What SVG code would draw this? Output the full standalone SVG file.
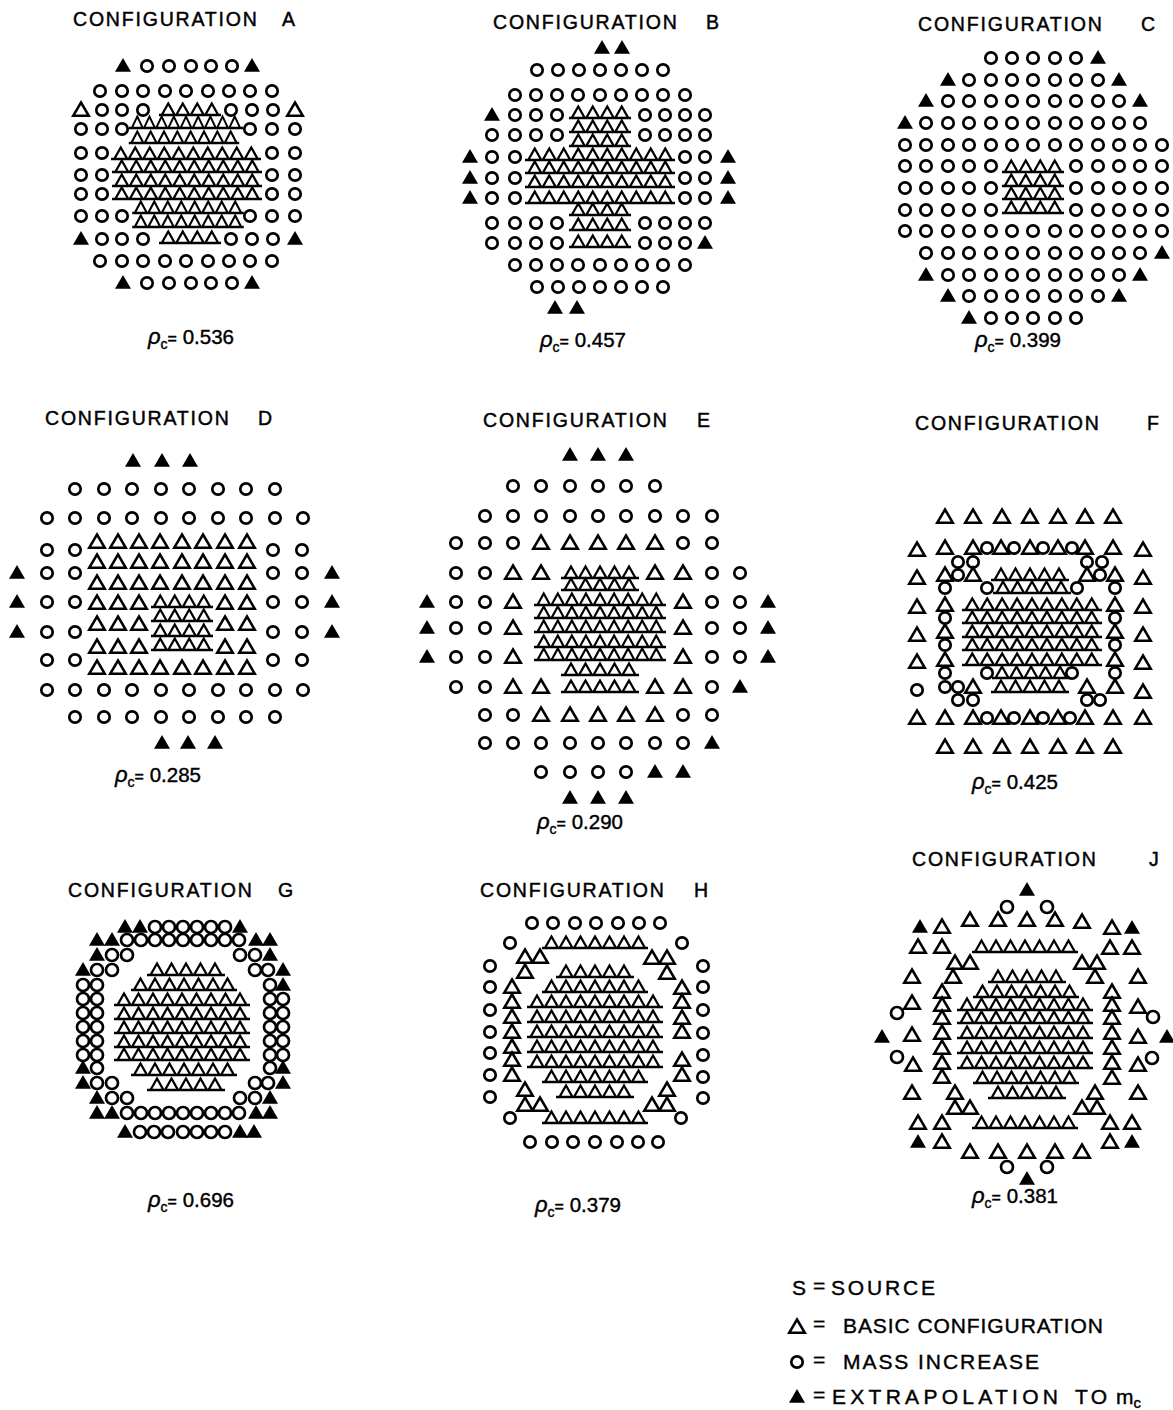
<svg xmlns="http://www.w3.org/2000/svg" xmlns:xlink="http://www.w3.org/1999/xlink" width="1173" height="1410" viewBox="0 0 1173 1410">
<style>
.ttl{font-family:"Liberation Sans",Arial,sans-serif;font-size:19.5px;letter-spacing:1.8px;fill:#000;stroke:#000;stroke-width:0.45}
.lbl{font-family:"Liberation Sans",Arial,sans-serif;font-size:20.5px;fill:#000;stroke:#000;stroke-width:0.4}
.leg{font-family:"Liberation Sans",Arial,sans-serif;font-size:21px;fill:#000;stroke:#000;stroke-width:0.4}
.o{fill:none;stroke:#000;stroke-width:2.7}
.tr{fill:none;stroke:#000;stroke-width:2.5;stroke-linejoin:miter}
.fl{fill:#000}
.dn{fill:none;stroke:#000;stroke-width:2.3;stroke-linejoin:miter}
</style>
<defs>
<circle id="c" class="o" r="5.7"/>
<circle id="cg" class="o" r="6"/>
<path id="t" class="tr" d="M0,-7.5L7.8,5.8H-7.8Z"/>
<path id="f" class="fl" d="M0,-8L8,5.8H-8Z"/>
<path id="r4" class="dn" d="M-31 5H31M-28.25 5l6.5-11.5l6.5 11.5m1.5 0l6.5-11.5l6.5 11.5m1.5 0l6.5-11.5l6.5 11.5m1.5 0l6.5-11.5l6.5 11.5"/>
<path id="r5" class="dn" d="M-39 5H39M-35.5 5l6.5-11.5l6.5 11.5m1.5 0l6.5-11.5l6.5 11.5m1.5 0l6.5-11.5l6.5 11.5m1.5 0l6.5-11.5l6.5 11.5m1.5 0l6.5-11.5l6.5 11.5"/>
<path id="r7" class="dn" d="M-53 5H53M-50 5l6.5-11.5l6.5 11.5m1.5 0l6.5-11.5l6.5 11.5m1.5 0l6.5-11.5l6.5 11.5m1.5 0l6.5-11.5l6.5 11.5m1.5 0l6.5-11.5l6.5 11.5m1.5 0l6.5-11.5l6.5 11.5m1.5 0l6.5-11.5l6.5 11.5"/>
<path id="r8" class="dn" d="M-60 5H60M-57.25 5l6.5-11.5l6.5 11.5m1.5 0l6.5-11.5l6.5 11.5m1.5 0l6.5-11.5l6.5 11.5m1.5 0l6.5-11.5l6.5 11.5m1.5 0l6.5-11.5l6.5 11.5m1.5 0l6.5-11.5l6.5 11.5m1.5 0l6.5-11.5l6.5 11.5m1.5 0l6.5-11.5l6.5 11.5"/>
<path id="r9" class="dn" d="M-68 5H68M-64.5 5l6.5-11.5l6.5 11.5m1.5 0l6.5-11.5l6.5 11.5m1.5 0l6.5-11.5l6.5 11.5m1.5 0l6.5-11.5l6.5 11.5m1.5 0l6.5-11.5l6.5 11.5m1.5 0l6.5-11.5l6.5 11.5m1.5 0l6.5-11.5l6.5 11.5m1.5 0l6.5-11.5l6.5 11.5m1.5 0l6.5-11.5l6.5 11.5"/>
<path id="r10" class="dn" d="M-75 5H75M-71.75 5l6.5-11.5l6.5 11.5m1.5 0l6.5-11.5l6.5 11.5m1.5 0l6.5-11.5l6.5 11.5m1.5 0l6.5-11.5l6.5 11.5m1.5 0l6.5-11.5l6.5 11.5m1.5 0l6.5-11.5l6.5 11.5m1.5 0l6.5-11.5l6.5 11.5m1.5 0l6.5-11.5l6.5 11.5m1.5 0l6.5-11.5l6.5 11.5m1.5 0l6.5-11.5l6.5 11.5"/>
</defs>
<rect width="1173" height="1410" fill="#fff"/>

<g id="config-a">
<text class="ttl" x="73" y="26">CONFIGURATION<tspan x="282">A</tspan></text>
<use href="#f" x="123" y="66"/><use href="#f" x="252" y="66"/><use href="#f" x="81" y="239"/><use href="#f" x="295" y="239"/><use href="#f" x="123" y="283"/><use href="#f" x="252" y="283"/>
<use href="#t" x="81" y="110"/><use href="#t" x="295" y="110"/>
<use href="#c" x="147" y="66"/><use href="#c" x="169" y="66"/><use href="#c" x="191" y="66"/><use href="#c" x="211" y="66"/><use href="#c" x="232" y="66"/>
<use href="#c" x="100" y="91"/><use href="#c" x="122" y="91"/><use href="#c" x="143" y="91"/><use href="#c" x="165" y="91"/><use href="#c" x="186" y="91"/><use href="#c" x="208" y="91"/><use href="#c" x="229" y="91"/><use href="#c" x="250" y="91"/><use href="#c" x="272" y="91"/>
<use href="#c" x="102" y="110"/><use href="#c" x="122" y="110"/><use href="#c" x="143" y="110"/><use href="#c" x="231" y="110"/><use href="#c" x="252" y="110"/><use href="#c" x="273" y="110"/>
<use href="#c" x="81" y="129"/><use href="#c" x="102" y="129"/><use href="#c" x="122" y="129"/><use href="#c" x="250" y="129"/><use href="#c" x="272" y="129"/><use href="#c" x="295" y="129"/>
<use href="#c" x="81" y="153"/><use href="#c" x="102" y="153"/><use href="#c" x="272" y="153"/><use href="#c" x="295" y="153"/>
<use href="#c" x="81" y="175"/><use href="#c" x="102" y="175"/><use href="#c" x="272" y="175"/><use href="#c" x="295" y="175"/>
<use href="#c" x="81" y="194"/><use href="#c" x="102" y="194"/><use href="#c" x="272" y="194"/><use href="#c" x="295" y="194"/>
<use href="#c" x="81" y="216"/><use href="#c" x="102" y="216"/><use href="#c" x="122" y="216"/><use href="#c" x="250" y="216"/><use href="#c" x="272" y="216"/><use href="#c" x="295" y="216"/>
<use href="#c" x="102" y="239"/><use href="#c" x="122" y="239"/><use href="#c" x="143" y="239"/><use href="#c" x="231" y="239"/><use href="#c" x="252" y="239"/><use href="#c" x="273" y="239"/>
<use href="#c" x="100" y="261"/><use href="#c" x="122" y="261"/><use href="#c" x="143" y="261"/><use href="#c" x="165" y="261"/><use href="#c" x="186" y="261"/><use href="#c" x="208" y="261"/><use href="#c" x="229" y="261"/><use href="#c" x="250" y="261"/><use href="#c" x="272" y="261"/>
<use href="#c" x="147" y="283"/><use href="#c" x="169" y="283"/><use href="#c" x="191" y="283"/><use href="#c" x="211" y="283"/><use href="#c" x="232" y="283"/>
<use href="#r4" x="190" y="110"/>
<use href="#r9" transform="translate(186,123) scale(0.84,1)"/>
<use href="#r8" transform="translate(184,138) scale(0.92,1)"/>
<use href="#r10" x="186" y="154"/><use href="#r10" x="187" y="167"/><use href="#r10" x="187" y="181"/><use href="#r10" x="187" y="194"/>
<use href="#r8" transform="translate(188,208) scale(0.93,1)"/>
<use href="#r8" transform="translate(188,222) scale(0.93,1)"/>
<use href="#r4" x="190" y="238"/>
<text class="lbl" x="148" y="344"><tspan font-style="italic" font-size="22">ρ</tspan><tspan font-size="14" dy="5">c</tspan><tspan font-size="16" dy="-5">=</tspan> 0.536</text>
</g>

<g id="config-b">
<text class="ttl" x="493" y="29">CONFIGURATION<tspan x="706">B</tspan></text>
<use href="#f" x="602" y="48"/><use href="#f" x="622" y="48"/><use href="#f" x="492" y="115"/><use href="#f" x="470" y="157"/><use href="#f" x="470" y="178"/><use href="#f" x="470" y="198"/><use href="#f" x="728" y="157"/><use href="#f" x="728" y="178"/><use href="#f" x="728" y="198"/><use href="#f" x="705" y="243"/><use href="#f" x="555" y="308"/><use href="#f" x="577" y="308"/>
<use href="#c" x="537" y="70"/><use href="#c" x="558" y="70"/><use href="#c" x="579" y="70"/><use href="#c" x="600" y="70"/><use href="#c" x="621" y="70"/><use href="#c" x="642" y="70"/><use href="#c" x="663" y="70"/>
<use href="#c" x="515" y="95"/><use href="#c" x="536" y="95"/><use href="#c" x="557" y="95"/><use href="#c" x="578" y="95"/><use href="#c" x="600" y="95"/><use href="#c" x="621" y="95"/><use href="#c" x="642" y="95"/><use href="#c" x="663" y="95"/><use href="#c" x="685" y="95"/>
<use href="#c" x="515" y="115"/><use href="#c" x="536" y="115"/><use href="#c" x="557" y="115"/><use href="#c" x="645" y="115"/><use href="#c" x="665" y="115"/><use href="#c" x="685" y="115"/><use href="#c" x="705" y="115"/>
<use href="#c" x="492" y="135"/><use href="#c" x="515" y="135"/><use href="#c" x="536" y="135"/><use href="#c" x="557" y="135"/><use href="#c" x="645" y="135"/><use href="#c" x="665" y="135"/><use href="#c" x="685" y="135"/><use href="#c" x="705" y="135"/>
<use href="#c" x="492" y="157"/><use href="#c" x="515" y="157"/><use href="#c" x="685" y="157"/><use href="#c" x="705" y="157"/>
<use href="#c" x="492" y="178"/><use href="#c" x="515" y="178"/><use href="#c" x="685" y="178"/><use href="#c" x="705" y="178"/>
<use href="#c" x="492" y="198"/><use href="#c" x="515" y="198"/><use href="#c" x="685" y="198"/><use href="#c" x="705" y="198"/>
<use href="#c" x="492" y="223"/><use href="#c" x="515" y="223"/><use href="#c" x="536" y="223"/><use href="#c" x="557" y="223"/><use href="#c" x="645" y="223"/><use href="#c" x="665" y="223"/><use href="#c" x="685" y="223"/><use href="#c" x="705" y="223"/>
<use href="#c" x="492" y="243"/><use href="#c" x="515" y="243"/><use href="#c" x="536" y="243"/><use href="#c" x="557" y="243"/><use href="#c" x="645" y="243"/><use href="#c" x="665" y="243"/><use href="#c" x="685" y="243"/>
<use href="#c" x="515" y="265"/><use href="#c" x="536" y="265"/><use href="#c" x="557" y="265"/><use href="#c" x="578" y="265"/><use href="#c" x="600" y="265"/><use href="#c" x="621" y="265"/><use href="#c" x="642" y="265"/><use href="#c" x="663" y="265"/><use href="#c" x="685" y="265"/>
<use href="#c" x="537" y="287"/><use href="#c" x="558" y="287"/><use href="#c" x="579" y="287"/><use href="#c" x="600" y="287"/><use href="#c" x="621" y="287"/><use href="#c" x="642" y="287"/><use href="#c" x="663" y="287"/>
<use href="#r4" x="600" y="113"/><use href="#r4" x="600" y="127"/><use href="#r4" x="600" y="141"/>
<use href="#r10" x="600" y="155"/><use href="#r10" x="600" y="168"/><use href="#r10" x="600" y="182"/><use href="#r10" x="600" y="198"/>
<use href="#r4" x="600" y="210"/><use href="#r4" x="600" y="225"/><use href="#r4" x="600" y="242"/>
<text class="lbl" x="540" y="347"><tspan font-style="italic" font-size="22">ρ</tspan><tspan font-size="14" dy="5">c</tspan><tspan font-size="16" dy="-5">=</tspan> 0.457</text>
</g>

<g id="config-c">
<text class="ttl" x="918" y="31">CONFIGURATION<tspan x="1141">C</tspan></text>
<use href="#f" x="1098" y="58"/><use href="#f" x="948" y="80"/><use href="#f" x="1119" y="80"/><use href="#f" x="926" y="101"/><use href="#f" x="1140" y="101"/><use href="#f" x="905" y="123"/>
<use href="#f" x="1162" y="253"/><use href="#f" x="926" y="275"/><use href="#f" x="1140" y="275"/><use href="#f" x="948" y="296"/><use href="#f" x="1119" y="296"/><use href="#f" x="969" y="318"/>
<use href="#c" x="991" y="58"/><use href="#c" x="1012" y="58"/><use href="#c" x="1033" y="58"/><use href="#c" x="1055" y="58"/><use href="#c" x="1076" y="58"/>
<use href="#c" x="969" y="80"/><use href="#c" x="991" y="80"/><use href="#c" x="1012" y="80"/><use href="#c" x="1033" y="80"/><use href="#c" x="1055" y="80"/><use href="#c" x="1076" y="80"/><use href="#c" x="1098" y="80"/>
<use href="#c" x="948" y="101"/><use href="#c" x="969" y="101"/><use href="#c" x="991" y="101"/><use href="#c" x="1012" y="101"/><use href="#c" x="1033" y="101"/><use href="#c" x="1055" y="101"/><use href="#c" x="1076" y="101"/><use href="#c" x="1098" y="101"/><use href="#c" x="1119" y="101"/>
<use href="#c" x="926" y="123"/><use href="#c" x="948" y="123"/><use href="#c" x="969" y="123"/><use href="#c" x="991" y="123"/><use href="#c" x="1012" y="123"/><use href="#c" x="1033" y="123"/><use href="#c" x="1055" y="123"/><use href="#c" x="1076" y="123"/><use href="#c" x="1098" y="123"/><use href="#c" x="1119" y="123"/><use href="#c" x="1140" y="123"/>
<use href="#c" x="905" y="145"/><use href="#c" x="926" y="145"/><use href="#c" x="948" y="145"/><use href="#c" x="969" y="145"/><use href="#c" x="991" y="145"/><use href="#c" x="1012" y="145"/><use href="#c" x="1033" y="145"/><use href="#c" x="1055" y="145"/><use href="#c" x="1076" y="145"/><use href="#c" x="1098" y="145"/><use href="#c" x="1119" y="145"/><use href="#c" x="1140" y="145"/><use href="#c" x="1162" y="145"/>
<use href="#c" x="905" y="166"/><use href="#c" x="926" y="166"/><use href="#c" x="948" y="166"/><use href="#c" x="969" y="166"/><use href="#c" x="991" y="166"/><use href="#c" x="1076" y="166"/><use href="#c" x="1098" y="166"/><use href="#c" x="1119" y="166"/><use href="#c" x="1140" y="166"/><use href="#c" x="1162" y="166"/>
<use href="#c" x="905" y="188"/><use href="#c" x="926" y="188"/><use href="#c" x="948" y="188"/><use href="#c" x="969" y="188"/><use href="#c" x="991" y="188"/><use href="#c" x="1076" y="188"/><use href="#c" x="1098" y="188"/><use href="#c" x="1119" y="188"/><use href="#c" x="1140" y="188"/><use href="#c" x="1162" y="188"/>
<use href="#c" x="905" y="210"/><use href="#c" x="926" y="210"/><use href="#c" x="948" y="210"/><use href="#c" x="969" y="210"/><use href="#c" x="991" y="210"/><use href="#c" x="1076" y="210"/><use href="#c" x="1098" y="210"/><use href="#c" x="1119" y="210"/><use href="#c" x="1140" y="210"/><use href="#c" x="1162" y="210"/>
<use href="#c" x="905" y="231"/><use href="#c" x="926" y="231"/><use href="#c" x="948" y="231"/><use href="#c" x="969" y="231"/><use href="#c" x="991" y="231"/><use href="#c" x="1012" y="231"/><use href="#c" x="1033" y="231"/><use href="#c" x="1055" y="231"/><use href="#c" x="1076" y="231"/><use href="#c" x="1098" y="231"/><use href="#c" x="1119" y="231"/><use href="#c" x="1140" y="231"/><use href="#c" x="1162" y="231"/>
<use href="#c" x="926" y="253"/><use href="#c" x="948" y="253"/><use href="#c" x="969" y="253"/><use href="#c" x="991" y="253"/><use href="#c" x="1012" y="253"/><use href="#c" x="1033" y="253"/><use href="#c" x="1055" y="253"/><use href="#c" x="1076" y="253"/><use href="#c" x="1098" y="253"/><use href="#c" x="1119" y="253"/><use href="#c" x="1140" y="253"/>
<use href="#c" x="948" y="275"/><use href="#c" x="969" y="275"/><use href="#c" x="991" y="275"/><use href="#c" x="1012" y="275"/><use href="#c" x="1033" y="275"/><use href="#c" x="1055" y="275"/><use href="#c" x="1076" y="275"/><use href="#c" x="1098" y="275"/><use href="#c" x="1119" y="275"/>
<use href="#c" x="969" y="296"/><use href="#c" x="991" y="296"/><use href="#c" x="1012" y="296"/><use href="#c" x="1033" y="296"/><use href="#c" x="1055" y="296"/><use href="#c" x="1076" y="296"/><use href="#c" x="1098" y="296"/>
<use href="#c" x="991" y="318"/><use href="#c" x="1012" y="318"/><use href="#c" x="1033" y="318"/><use href="#c" x="1055" y="318"/><use href="#c" x="1076" y="318"/>
<use href="#r4" x="1033" y="167"/><use href="#r4" x="1033" y="181"/><use href="#r4" x="1033" y="194"/><use href="#r4" x="1033" y="208"/>
<text class="lbl" x="975" y="347"><tspan font-style="italic" font-size="22">ρ</tspan><tspan font-size="14" dy="5">c</tspan><tspan font-size="16" dy="-5">=</tspan> 0.399</text>
</g>

<g id="config-d">
<text class="ttl" x="45" y="425">CONFIGURATION<tspan x="258">D</tspan></text>
<use href="#f" x="133" y="461"/><use href="#f" x="162" y="461"/><use href="#f" x="190" y="461"/><use href="#f" x="17" y="573"/><use href="#f" x="17" y="602"/><use href="#f" x="17" y="632"/><use href="#f" x="332" y="573"/><use href="#f" x="332" y="602"/><use href="#f" x="332" y="632"/><use href="#f" x="162" y="743"/><use href="#f" x="188" y="743"/><use href="#f" x="215" y="743"/>
<use href="#c" x="75" y="489"/><use href="#c" x="104" y="489"/><use href="#c" x="132" y="489"/><use href="#c" x="161" y="489"/><use href="#c" x="189" y="489"/><use href="#c" x="218" y="489"/><use href="#c" x="246" y="489"/><use href="#c" x="275" y="489"/>
<use href="#c" x="47" y="518"/><use href="#c" x="75" y="518"/><use href="#c" x="104" y="518"/><use href="#c" x="132" y="518"/><use href="#c" x="161" y="518"/><use href="#c" x="189" y="518"/><use href="#c" x="218" y="518"/><use href="#c" x="246" y="518"/><use href="#c" x="275" y="518"/><use href="#c" x="303" y="518"/>
<use href="#c" x="47" y="550"/><use href="#c" x="75" y="550"/><use href="#c" x="273" y="550"/><use href="#c" x="302" y="550"/>
<use href="#c" x="47" y="573"/><use href="#c" x="75" y="573"/><use href="#c" x="273" y="573"/><use href="#c" x="302" y="573"/>
<use href="#c" x="47" y="602"/><use href="#c" x="75" y="602"/><use href="#c" x="273" y="602"/><use href="#c" x="302" y="602"/>
<use href="#c" x="47" y="632"/><use href="#c" x="75" y="632"/><use href="#c" x="273" y="632"/><use href="#c" x="302" y="632"/>
<use href="#c" x="47" y="660"/><use href="#c" x="75" y="660"/><use href="#c" x="273" y="660"/><use href="#c" x="302" y="660"/>
<use href="#c" x="47" y="690"/><use href="#c" x="75" y="690"/><use href="#c" x="104" y="690"/><use href="#c" x="132" y="690"/><use href="#c" x="161" y="690"/><use href="#c" x="189" y="690"/><use href="#c" x="218" y="690"/><use href="#c" x="246" y="690"/><use href="#c" x="275" y="690"/><use href="#c" x="303" y="690"/>
<use href="#c" x="75" y="717"/><use href="#c" x="104" y="717"/><use href="#c" x="132" y="717"/><use href="#c" x="161" y="717"/><use href="#c" x="189" y="717"/><use href="#c" x="218" y="717"/><use href="#c" x="246" y="717"/><use href="#c" x="275" y="717"/>
<use href="#t" x="97" y="542"/><use href="#t" x="118" y="542"/><use href="#t" x="139" y="542"/><use href="#t" x="160" y="542"/><use href="#t" x="182" y="542"/><use href="#t" x="203" y="542"/><use href="#t" x="225" y="542"/><use href="#t" x="247" y="542"/>
<use href="#t" x="97" y="562"/><use href="#t" x="118" y="562"/><use href="#t" x="139" y="562"/><use href="#t" x="160" y="562"/><use href="#t" x="182" y="562"/><use href="#t" x="203" y="562"/><use href="#t" x="225" y="562"/><use href="#t" x="247" y="562"/>
<use href="#t" x="97" y="583"/><use href="#t" x="118" y="583"/><use href="#t" x="139" y="583"/><use href="#t" x="160" y="583"/><use href="#t" x="182" y="583"/><use href="#t" x="203" y="583"/><use href="#t" x="225" y="583"/><use href="#t" x="247" y="583"/>
<use href="#t" x="97" y="603"/><use href="#t" x="118" y="603"/><use href="#t" x="139" y="603"/><use href="#t" x="225" y="603"/><use href="#t" x="247" y="603"/>
<use href="#t" x="97" y="624"/><use href="#t" x="118" y="624"/><use href="#t" x="139" y="624"/><use href="#t" x="225" y="624"/><use href="#t" x="247" y="624"/>
<use href="#t" x="97" y="647"/><use href="#t" x="118" y="647"/><use href="#t" x="139" y="647"/><use href="#t" x="225" y="647"/><use href="#t" x="247" y="647"/>
<use href="#t" x="97" y="668"/><use href="#t" x="118" y="668"/><use href="#t" x="139" y="668"/><use href="#t" x="160" y="668"/><use href="#t" x="182" y="668"/><use href="#t" x="203" y="668"/><use href="#t" x="225" y="668"/><use href="#t" x="247" y="668"/>
<use href="#r4" x="182" y="602"/><use href="#r4" x="182" y="616"/><use href="#r4" x="182" y="631"/><use href="#r4" x="182" y="645"/>
<text class="lbl" x="115" y="782"><tspan font-style="italic" font-size="22">ρ</tspan><tspan font-size="14" dy="5">c</tspan><tspan font-size="16" dy="-5">=</tspan> 0.285</text>
</g>

<g id="config-e">
<text class="ttl" x="483" y="427">CONFIGURATION<tspan x="697">E</tspan></text>
<use href="#f" x="570" y="455"/><use href="#f" x="598" y="455"/><use href="#f" x="626" y="455"/><use href="#f" x="427" y="602"/><use href="#f" x="427" y="628"/><use href="#f" x="427" y="657"/><use href="#f" x="768" y="602"/><use href="#f" x="768" y="628"/><use href="#f" x="768" y="657"/><use href="#f" x="740" y="687"/><use href="#f" x="712" y="743"/><use href="#f" x="655" y="772"/><use href="#f" x="683" y="772"/><use href="#f" x="570" y="798"/><use href="#f" x="598" y="798"/><use href="#f" x="626" y="798"/>
<use href="#c" x="513" y="486"/><use href="#c" x="541" y="486"/><use href="#c" x="570" y="486"/><use href="#c" x="598" y="486"/><use href="#c" x="626" y="486"/><use href="#c" x="655" y="486"/>
<use href="#c" x="485" y="516"/><use href="#c" x="513" y="516"/><use href="#c" x="541" y="516"/><use href="#c" x="570" y="516"/><use href="#c" x="598" y="516"/><use href="#c" x="626" y="516"/><use href="#c" x="655" y="516"/><use href="#c" x="683" y="516"/><use href="#c" x="712" y="516"/>
<use href="#c" x="456" y="543"/><use href="#c" x="485" y="543"/><use href="#c" x="513" y="543"/><use href="#c" x="683" y="543"/><use href="#c" x="712" y="543"/>
<use href="#c" x="456" y="573"/><use href="#c" x="485" y="573"/><use href="#c" x="712" y="573"/><use href="#c" x="740" y="573"/>
<use href="#c" x="456" y="602"/><use href="#c" x="485" y="602"/><use href="#c" x="712" y="602"/><use href="#c" x="740" y="602"/>
<use href="#c" x="456" y="628"/><use href="#c" x="485" y="628"/><use href="#c" x="712" y="628"/><use href="#c" x="740" y="628"/>
<use href="#c" x="456" y="657"/><use href="#c" x="485" y="657"/><use href="#c" x="712" y="657"/><use href="#c" x="740" y="657"/>
<use href="#c" x="456" y="687"/><use href="#c" x="485" y="687"/><use href="#c" x="712" y="687"/>
<use href="#c" x="485" y="715"/><use href="#c" x="513" y="715"/><use href="#c" x="683" y="715"/><use href="#c" x="712" y="715"/>
<use href="#c" x="485" y="743"/><use href="#c" x="513" y="743"/><use href="#c" x="541" y="743"/><use href="#c" x="570" y="743"/><use href="#c" x="598" y="743"/><use href="#c" x="626" y="743"/><use href="#c" x="655" y="743"/><use href="#c" x="683" y="743"/>
<use href="#c" x="541" y="772"/><use href="#c" x="570" y="772"/><use href="#c" x="598" y="772"/><use href="#c" x="626" y="772"/>
<use href="#t" x="541" y="543"/><use href="#t" x="570" y="543"/><use href="#t" x="598" y="543"/><use href="#t" x="626" y="543"/><use href="#t" x="655" y="543"/>
<use href="#t" x="513" y="573"/><use href="#t" x="541" y="573"/><use href="#t" x="655" y="573"/><use href="#t" x="683" y="573"/>
<use href="#t" x="513" y="602"/><use href="#t" x="683" y="602"/>
<use href="#t" x="513" y="628"/><use href="#t" x="683" y="628"/>
<use href="#t" x="513" y="657"/><use href="#t" x="683" y="657"/>
<use href="#t" x="513" y="687"/><use href="#t" x="541" y="687"/><use href="#t" x="655" y="687"/><use href="#t" x="683" y="687"/>
<use href="#t" x="541" y="715"/><use href="#t" x="570" y="715"/><use href="#t" x="598" y="715"/><use href="#t" x="626" y="715"/><use href="#t" x="655" y="715"/>
<use href="#r5" x="600" y="573"/><use href="#r5" x="600" y="585"/>
<use href="#r9" transform="translate(600,600) scale(0.97,1)"/><use href="#r9" transform="translate(600,613) scale(0.97,1)"/><use href="#r9" transform="translate(600,627) scale(0.97,1)"/><use href="#r9" transform="translate(600,642) scale(0.97,1)"/><use href="#r9" transform="translate(600,655) scale(0.97,1)"/>
<use href="#r5" x="600" y="670"/><use href="#r5" x="600" y="687"/>
<text class="lbl" x="537" y="829"><tspan font-style="italic" font-size="22">ρ</tspan><tspan font-size="14" dy="5">c</tspan><tspan font-size="16" dy="-5">=</tspan> 0.290</text>
</g>

<g id="config-f">
<text class="ttl" x="915" y="430">CONFIGURATION<tspan x="1147">F</tspan></text>
<use href="#t" x="945" y="517"/><use href="#t" x="973" y="517"/><use href="#t" x="1002" y="517"/><use href="#t" x="1030" y="517"/><use href="#t" x="1058" y="517"/><use href="#t" x="1085" y="517"/><use href="#t" x="1113" y="517"/>
<use href="#t" x="945" y="747"/><use href="#t" x="973" y="747"/><use href="#t" x="1002" y="747"/><use href="#t" x="1030" y="747"/><use href="#t" x="1058" y="747"/><use href="#t" x="1085" y="747"/><use href="#t" x="1113" y="747"/>
<use href="#t" x="917" y="550"/><use href="#t" x="917" y="578"/><use href="#t" x="917" y="607"/><use href="#t" x="917" y="635"/><use href="#t" x="917" y="662"/><use href="#c" x="917" y="690"/><use href="#t" x="917" y="718"/>
<use href="#t" x="1143" y="550"/><use href="#t" x="1143" y="578"/><use href="#t" x="1143" y="607"/><use href="#t" x="1143" y="635"/><use href="#t" x="1143" y="663"/><use href="#t" x="1143" y="692"/><use href="#t" x="1143" y="718"/>
<use href="#t" x="945" y="548"/><use href="#t" x="973" y="548"/><use href="#c" x="987" y="548"/><use href="#t" x="1001" y="548"/><use href="#c" x="1014" y="548"/><use href="#t" x="1030" y="548"/><use href="#c" x="1043" y="548"/><use href="#t" x="1058" y="548"/><use href="#c" x="1072" y="548"/><use href="#t" x="1085" y="548"/><use href="#t" x="1113" y="548"/>
<use href="#c" x="958" y="562"/><use href="#c" x="973" y="562"/><use href="#c" x="1087" y="562"/><use href="#c" x="1102" y="562"/>
<use href="#t" x="945" y="575"/><use href="#c" x="958" y="575"/><use href="#t" x="973" y="575"/><use href="#t" x="1087" y="575"/><use href="#c" x="1100" y="575"/><use href="#t" x="1115" y="575"/>
<use href="#c" x="945" y="588"/><use href="#c" x="987" y="588"/><use href="#c" x="1077" y="588"/><use href="#c" x="1115" y="588"/>
<use href="#t" x="945" y="605"/><use href="#t" x="1115" y="605"/>
<use href="#c" x="945" y="618"/><use href="#c" x="1115" y="618"/>
<use href="#t" x="945" y="632"/><use href="#t" x="1115" y="632"/>
<use href="#c" x="945" y="645"/><use href="#c" x="1115" y="645"/>
<use href="#t" x="945" y="660"/><use href="#t" x="1115" y="660"/>
<use href="#c" x="945" y="673"/><use href="#c" x="987" y="673"/><use href="#c" x="1072" y="673"/><use href="#c" x="1115" y="673"/>
<use href="#c" x="945" y="687"/><use href="#c" x="958" y="687"/><use href="#t" x="973" y="687"/><use href="#t" x="1087" y="687"/><use href="#t" x="1115" y="687"/>
<use href="#c" x="958" y="700"/><use href="#c" x="973" y="700"/><use href="#c" x="1087" y="700"/><use href="#c" x="1100" y="700"/>
<use href="#t" x="945" y="718"/><use href="#t" x="973" y="718"/><use href="#c" x="987" y="718"/><use href="#t" x="1001" y="718"/><use href="#c" x="1014" y="718"/><use href="#t" x="1030" y="718"/><use href="#c" x="1043" y="718"/><use href="#t" x="1058" y="718"/><use href="#c" x="1070" y="718"/><use href="#t" x="1085" y="718"/><use href="#t" x="1113" y="718"/>
<use href="#r5" x="1030" y="575"/><use href="#r5" x="1032" y="588"/>
<use href="#r9" transform="translate(1032,605) scale(1.03,1)"/><use href="#r9" transform="translate(1032,618) scale(1.03,1)"/><use href="#r9" transform="translate(1032,632) scale(1.03,1)"/><use href="#r9" transform="translate(1032,645) scale(1.03,1)"/><use href="#r9" transform="translate(1032,660) scale(1.03,1)"/>
<use href="#r5" x="1031" y="673"/><use href="#r5" x="1030" y="687"/>
<text class="lbl" x="972" y="789"><tspan font-style="italic" font-size="22">ρ</tspan><tspan font-size="14" dy="5">c</tspan><tspan font-size="16" dy="-5">=</tspan> 0.425</text>
</g>

<g id="config-g">
<text class="ttl" x="68" y="897">CONFIGURATION<tspan x="278">G</tspan></text>
<use href="#f" x="125" y="927"/><use href="#f" x="140" y="927"/><use href="#f" x="240" y="927"/>
<use href="#f" x="97" y="940"/><use href="#f" x="112" y="940"/><use href="#f" x="256" y="940"/><use href="#f" x="270" y="940"/>
<use href="#f" x="97" y="955"/><use href="#f" x="270" y="955"/>
<use href="#f" x="83" y="970"/><use href="#f" x="283" y="970"/><use href="#f" x="283" y="985"/>
<use href="#f" x="83" y="1068"/><use href="#f" x="283" y="1068"/><use href="#f" x="83" y="1083"/><use href="#f" x="283" y="1083"/>
<use href="#f" x="97" y="1098"/><use href="#f" x="270" y="1098"/>
<use href="#f" x="97" y="1113"/><use href="#f" x="112" y="1113"/><use href="#f" x="256" y="1113"/><use href="#f" x="270" y="1113"/>
<use href="#f" x="125" y="1132"/><use href="#f" x="240" y="1132"/><use href="#f" x="254" y="1132"/>
<use href="#cg" x="155" y="927"/><use href="#cg" x="169" y="927"/><use href="#cg" x="183" y="927"/><use href="#cg" x="197" y="927"/><use href="#cg" x="211" y="927"/><use href="#cg" x="225" y="927"/>
<use href="#cg" x="127" y="940"/><use href="#cg" x="141" y="940"/><use href="#cg" x="155" y="940"/><use href="#cg" x="169" y="940"/><use href="#cg" x="183" y="940"/><use href="#cg" x="197" y="940"/><use href="#cg" x="211" y="940"/><use href="#cg" x="225" y="940"/><use href="#cg" x="239" y="940"/>
<use href="#cg" x="112" y="955"/><use href="#cg" x="127" y="955"/><use href="#cg" x="240" y="955"/><use href="#cg" x="255" y="955"/>
<use href="#cg" x="97" y="970"/><use href="#cg" x="112" y="970"/><use href="#cg" x="255" y="970"/><use href="#cg" x="268" y="970"/>
<use href="#cg" x="83" y="985"/><use href="#cg" x="97" y="985"/><use href="#cg" x="270" y="985"/>
<use href="#cg" x="83" y="999"/><use href="#cg" x="97" y="999"/><use href="#cg" x="270" y="999"/><use href="#cg" x="283" y="999"/>
<use href="#cg" x="83" y="1013"/><use href="#cg" x="97" y="1013"/><use href="#cg" x="270" y="1013"/><use href="#cg" x="283" y="1013"/>
<use href="#cg" x="83" y="1027"/><use href="#cg" x="97" y="1027"/><use href="#cg" x="270" y="1027"/><use href="#cg" x="283" y="1027"/>
<use href="#cg" x="83" y="1041"/><use href="#cg" x="97" y="1041"/><use href="#cg" x="270" y="1041"/><use href="#cg" x="283" y="1041"/>
<use href="#cg" x="83" y="1055"/><use href="#cg" x="97" y="1055"/><use href="#cg" x="270" y="1055"/><use href="#cg" x="283" y="1055"/>
<use href="#cg" x="97" y="1068"/><use href="#cg" x="270" y="1068"/>
<use href="#cg" x="97" y="1083"/><use href="#cg" x="112" y="1083"/><use href="#cg" x="255" y="1083"/><use href="#cg" x="268" y="1083"/>
<use href="#cg" x="112" y="1098"/><use href="#cg" x="127" y="1098"/><use href="#cg" x="240" y="1098"/><use href="#cg" x="255" y="1098"/>
<use href="#cg" x="127" y="1113"/><use href="#cg" x="141" y="1113"/><use href="#cg" x="155" y="1113"/><use href="#cg" x="169" y="1113"/><use href="#cg" x="183" y="1113"/><use href="#cg" x="197" y="1113"/><use href="#cg" x="211" y="1113"/><use href="#cg" x="225" y="1113"/><use href="#cg" x="239" y="1113"/>
<use href="#cg" x="140" y="1132"/><use href="#cg" x="154" y="1132"/><use href="#cg" x="168" y="1132"/><use href="#cg" x="183" y="1132"/><use href="#cg" x="197" y="1132"/><use href="#cg" x="211" y="1132"/><use href="#cg" x="225" y="1132"/>
<use href="#r5" x="186" y="970"/><use href="#r7" x="184" y="985"/>
<use href="#r9" x="182" y="1000"/><use href="#r9" x="182" y="1014"/><use href="#r9" x="182" y="1028"/><use href="#r9" x="182" y="1042"/><use href="#r9" x="182" y="1055"/>
<use href="#r7" x="184" y="1070"/><use href="#r5" x="186" y="1085"/>
<text class="lbl" x="148" y="1207"><tspan font-style="italic" font-size="22">ρ</tspan><tspan font-size="14" dy="5">c</tspan><tspan font-size="16" dy="-5">=</tspan> 0.696</text>
</g>

<g id="config-h">
<text class="ttl" x="480" y="897">CONFIGURATION<tspan x="694">H</tspan></text>
<use href="#c" x="532" y="923"/><use href="#c" x="553" y="923"/><use href="#c" x="575" y="923"/><use href="#c" x="596" y="923"/><use href="#c" x="618" y="923"/><use href="#c" x="639" y="923"/><use href="#c" x="660" y="923"/>
<use href="#c" x="510" y="943"/><use href="#c" x="682" y="943"/>
<use href="#c" x="490" y="966"/><use href="#c" x="490" y="987"/><use href="#c" x="490" y="1010"/><use href="#c" x="490" y="1032"/><use href="#c" x="490" y="1053"/><use href="#c" x="490" y="1075"/><use href="#c" x="490" y="1097"/>
<use href="#c" x="703" y="966"/><use href="#c" x="703" y="987"/><use href="#c" x="703" y="1010"/><use href="#c" x="703" y="1033"/><use href="#c" x="703" y="1055"/><use href="#c" x="703" y="1077"/><use href="#c" x="703" y="1098"/>
<use href="#c" x="510" y="1118"/><use href="#c" x="681" y="1118"/>
<use href="#c" x="530" y="1142"/><use href="#c" x="552" y="1142"/><use href="#c" x="573" y="1142"/><use href="#c" x="595" y="1142"/><use href="#c" x="617" y="1142"/><use href="#c" x="638" y="1142"/><use href="#c" x="658" y="1142"/>
<use href="#t" x="512" y="987"/><use href="#t" x="512" y="1002"/><use href="#t" x="512" y="1017"/><use href="#t" x="512" y="1032"/><use href="#t" x="512" y="1047"/><use href="#t" x="512" y="1060"/><use href="#t" x="512" y="1075"/>
<use href="#t" x="682" y="988"/><use href="#t" x="682" y="1002"/><use href="#t" x="682" y="1018"/><use href="#t" x="682" y="1032"/><use href="#t" x="682" y="1060"/><use href="#t" x="682" y="1075"/>
<use href="#t" x="525" y="957"/><use href="#t" x="540" y="957"/><use href="#t" x="525" y="972"/>
<use href="#t" x="652" y="958"/><use href="#t" x="667" y="958"/><use href="#t" x="667" y="973"/>
<use href="#t" x="525" y="1090"/><use href="#t" x="525" y="1105"/><use href="#t" x="540" y="1105"/>
<use href="#t" x="667" y="1090"/><use href="#t" x="652" y="1105"/><use href="#t" x="667" y="1105"/>
<use href="#r7" x="595" y="943"/><use href="#r5" x="595" y="972"/><use href="#r7" x="595" y="987"/>
<use href="#r9" x="595" y="1002"/><use href="#r9" x="595" y="1017"/><use href="#r9" x="595" y="1032"/><use href="#r9" x="595" y="1047"/><use href="#r9" x="595" y="1062"/>
<use href="#r7" x="595" y="1077"/><use href="#r5" x="595" y="1092"/><use href="#r7" x="595" y="1118"/>
<text class="lbl" x="535" y="1212"><tspan font-style="italic" font-size="22">ρ</tspan><tspan font-size="14" dy="5">c</tspan><tspan font-size="16" dy="-5">=</tspan> 0.379</text>
</g>

<g id="config-j">
<text class="ttl" x="912" y="866">CONFIGURATION<tspan x="1149">J</tspan></text>
<use href="#f" x="1027" y="890"/><use href="#f" x="920" y="927"/><use href="#f" x="1132" y="928"/><use href="#f" x="882" y="1037"/><use href="#f" x="1167" y="1037"/><use href="#f" x="918" y="1142"/><use href="#f" x="1132" y="1142"/><use href="#f" x="1027" y="1179"/>
<use href="#cg" x="1007" y="907"/><use href="#cg" x="1047" y="907"/><use href="#cg" x="897" y="1013"/><use href="#cg" x="1153" y="1017"/><use href="#cg" x="897" y="1057"/><use href="#cg" x="1152" y="1058"/><use href="#cg" x="1007" y="1167"/><use href="#cg" x="1047" y="1167"/>
<use href="#t" x="970" y="920"/><use href="#t" x="998" y="920"/><use href="#t" x="1027" y="920"/><use href="#t" x="1055" y="920"/><use href="#t" x="1082" y="922"/>
<use href="#t" x="942" y="927"/><use href="#t" x="1112" y="928"/>
<use href="#t" x="918" y="947"/><use href="#t" x="942" y="947"/><use href="#t" x="1110" y="948"/><use href="#t" x="1132" y="948"/>
<use href="#t" x="955" y="963"/><use href="#t" x="970" y="963"/><use href="#t" x="1082" y="963"/><use href="#t" x="1097" y="963"/>
<use href="#t" x="912" y="977"/><use href="#t" x="953" y="977"/><use href="#t" x="1095" y="977"/><use href="#t" x="1138" y="977"/>
<use href="#t" x="942" y="992"/><use href="#t" x="1112" y="992"/>
<use href="#t" x="912" y="1003"/><use href="#t" x="942" y="1005"/><use href="#t" x="1112" y="1005"/><use href="#t" x="1138" y="1007"/>
<use href="#t" x="942" y="1018"/><use href="#t" x="1112" y="1018"/>
<use href="#t" x="912" y="1035"/><use href="#t" x="942" y="1033"/><use href="#t" x="1112" y="1033"/><use href="#t" x="1138" y="1037"/>
<use href="#t" x="942" y="1048"/><use href="#t" x="1112" y="1048"/>
<use href="#t" x="913" y="1065"/><use href="#t" x="942" y="1063"/><use href="#t" x="1112" y="1063"/><use href="#t" x="1138" y="1065"/>
<use href="#t" x="942" y="1077"/><use href="#t" x="1112" y="1078"/>
<use href="#t" x="912" y="1093"/><use href="#t" x="955" y="1093"/><use href="#t" x="1095" y="1093"/><use href="#t" x="1138" y="1093"/>
<use href="#t" x="955" y="1108"/><use href="#t" x="970" y="1108"/><use href="#t" x="1082" y="1108"/><use href="#t" x="1097" y="1108"/>
<use href="#t" x="918" y="1123"/><use href="#t" x="942" y="1123"/><use href="#t" x="1110" y="1123"/><use href="#t" x="1132" y="1123"/>
<use href="#t" x="942" y="1142"/><use href="#t" x="1110" y="1142"/>
<use href="#t" x="970" y="1152"/><use href="#t" x="998" y="1152"/><use href="#t" x="1027" y="1152"/><use href="#t" x="1055" y="1152"/><use href="#t" x="1082" y="1152"/>
<use href="#r7" x="1025" y="947"/><use href="#r5" x="1027" y="977"/><use href="#r7" x="1026" y="992"/>
<use href="#r9" x="1025" y="1005"/><use href="#r9" x="1025" y="1018"/><use href="#r9" x="1025" y="1033"/><use href="#r9" x="1025" y="1048"/><use href="#r9" x="1025" y="1063"/>
<use href="#r7" x="1026" y="1078"/><use href="#r5" x="1027" y="1093"/><use href="#r7" x="1025" y="1123"/>
<text class="lbl" x="972" y="1203"><tspan font-style="italic" font-size="22">ρ</tspan><tspan font-size="14" dy="5">c</tspan><tspan font-size="16" dy="-5">=</tspan> 0.381</text>
</g>

<g id="connectors"/>

<g id="legend">
<text class="leg" x="792" y="1295">S</text>
<text class="leg" x="813" y="1293" font-size="14">=</text>
<text class="leg" x="831" y="1295" textLength="104" lengthAdjust="spacing">SOURCE</text>
<use href="#t" x="797" y="1327"/>
<text class="leg" x="813" y="1331" font-size="14">=</text>
<text class="leg" x="843" y="1333" textLength="260" lengthAdjust="spacing">BASIC CONFIGURATION</text>
<use href="#c" x="797" y="1362"/>
<text class="leg" x="813" y="1367" font-size="14">=</text>
<text class="leg" x="843" y="1369" textLength="196" lengthAdjust="spacing">MASS INCREASE</text>
<use href="#f" x="797" y="1397"/>
<text class="leg" x="813" y="1402" font-size="14">=</text>
<text class="leg" x="832" y="1404" textLength="226" lengthAdjust="spacing">EXTRAPOLATION</text>
<text class="leg" x="1075" y="1404" textLength="32" lengthAdjust="spacing">TO</text>
<text class="leg" x="1116" y="1404" font-size="23">m<tspan font-size="15" dy="4">c</tspan></text>
</g>
</svg>
